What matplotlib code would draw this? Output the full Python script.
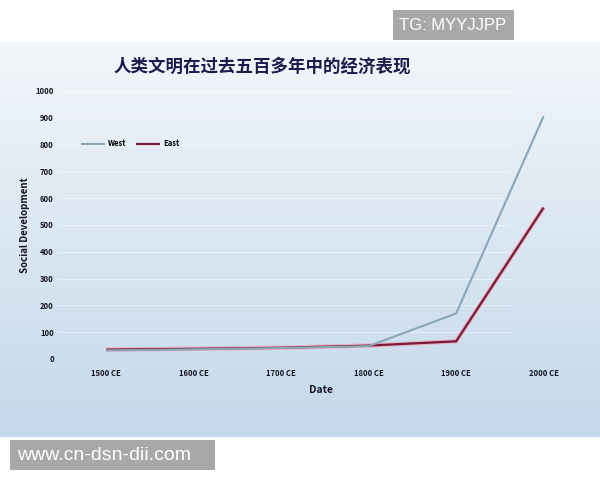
import matplotlib
matplotlib.use("Agg")
import matplotlib.pyplot as plt
from matplotlib.patches import Rectangle
import numpy as np

# social development index
dates = ["1500 CE", "1600 CE", "1700 CE", "1800 CE", "1900 CE", "2000 CE"]
west = [32, 36, 41, 48, 170, 906]
east = [35, 38, 42, 50, 66, 565]
y_ticks = [0, 100, 200, 300, 400, 500, 600, 700, 800, 900, 1000]

title = "人类文明在过去五百多年中的经济表现"

plt.rcParams["font.family"] = ["Noto Sans CJK SC", "DejaVu Sans"]

W, H = 600, 480
fig = plt.figure(figsize=(6, 4.8), dpi=100)
fig.patch.set_facecolor("white")

# background panel with a soft vertical gradient
bg = fig.add_axes([0, 1 - 437 / H, 1, (437 - 42) / H])
top = np.array([0.955, 0.968, 0.982])
bottom = np.array([0.77, 0.85, 0.92])
t = np.linspace(0, 1, 200)[:, None, None] ** 0.9
grad = top * (1 - t) + bottom * t
grad = np.repeat(grad, 2, axis=1)
bg.imshow(grad, aspect="auto", extent=[0, 1, 0, 1])
bg.axis("off")

ax = fig.add_axes([58 / W, 1 - 359 / H, 525 / W, (359 - 91) / H])
ax.set_facecolor("none")
x = np.arange(len(dates))

for v in y_ticks[1:]:
    ax.axhline(v, color="white", lw=0.8, alpha=0.45, xmax=0.86, zorder=0)

# East line with a pinkish halo
ax.plot(x, east, color="#f0a0b0", lw=3.2, alpha=0.7, solid_capstyle="butt", zorder=2)
l_east, = ax.plot(x, east, color="#7a1a3a", lw=1.6, solid_capstyle="butt", zorder=3)
l_west, = ax.plot(x, west, color="#8aa6b8", lw=1.5, solid_capstyle="butt", zorder=4)

ax.set_xlim(-0.55, 5.45)
ax.set_ylim(0, 1000)
ax.set_xticks(x)
ax.set_xticklabels(dates)
ax.set_yticks(y_ticks)
ax.set_yticklabels([str(v) for v in y_ticks])
ax.tick_params(length=0, labelsize=5.5, colors="#151520", pad=3)
ax.tick_params(axis="x", pad=7)
for lab in ax.get_xticklabels() + ax.get_yticklabels():
    lab.set_fontweight("bold")
for s in ax.spines.values():
    s.set_visible(False)

ax.set_xlabel("Date", fontsize=7.5, fontweight="bold", color="#151520", labelpad=5)
ax.set_ylabel("Social Development", fontsize=7, fontweight="bold", color="#151520", labelpad=4)

ax.legend([l_west, l_east], ["West", "East"],
          loc="upper left", bbox_to_anchor=(0.03, 0.845), ncol=2, frameon=False,
          handlelength=3.2, columnspacing=1.2, handletextpad=0.4,
          prop={"weight": "bold", "size": 5.5})

fig.text(262 / W, 1 - 67 / H, title, ha="center", va="center",
         fontsize=12.6, fontweight="bold", color="#1c1c4c")

# watermark boxes
fig.patches.append(Rectangle((393 / W, 1 - 40 / H), 121 / W, 30 / H,
                             transform=fig.transFigure, fc="#a8a8a8", ec="none"))
fig.text(453 / W, 1 - 25 / H, "TG: MYYJJPP", ha="center", va="center",
         fontsize=12, color="white", family="Liberation Sans")
fig.patches.append(Rectangle((10 / W, 1 - 470 / H), 205 / W, 30 / H,
                             transform=fig.transFigure, fc="#a8a8a8", ec="none"))
fig.text(104 / W, 1 - 455 / H, "www.cn-dsn-dii.com", ha="center", va="center",
         fontsize=14, color="white", family="Liberation Sans")

fig.savefig("out.png", dpi=100)
